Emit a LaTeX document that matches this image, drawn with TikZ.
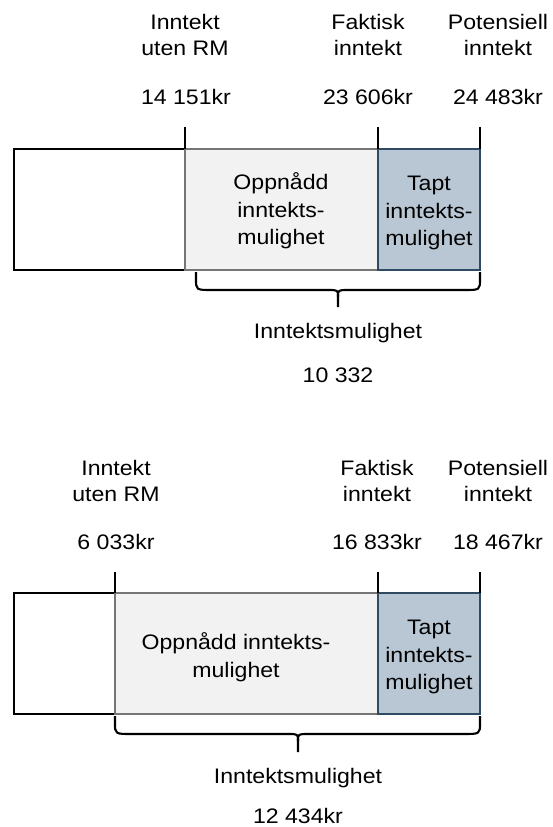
\documentclass[tikz,border=0pt]{standalone}
\usepackage{fontspec}
\setmainfont{Liberation Sans}[FakeStretch=1.1]
\definecolor{gfill}{HTML}{F2F2F2}
\definecolor{gline}{HTML}{767676}
\definecolor{bfill}{HTML}{B9C7D4}
\definecolor{bline}{HTML}{2F4A63}
\tikzset{
  boxbase/.style={rectangle, inner sep=0pt, outer sep=0pt, anchor=north west, line width=2.8pt},
  whitebox/.style={boxbase, draw=black, fill=white},
  greybox/.style={boxbase, draw=gline, fill=gfill, align=center, font=\fontsize{21}{27.5}\selectfont},
  bluebox/.style={boxbase, draw=bline, fill=bfill, align=center, font=\fontsize{21}{27.5}\selectfont},
  tickline/.style={line width=2.8pt, black},
  braceline/.style={line width=2.1pt, black, line join=round},
  lbl/.style={align=center, inner sep=0pt, font=\fontsize{21}{26}\selectfont},
  num/.style={anchor=base, inner sep=0pt, font=\fontsize{21}{25}\selectfont},
}
\begin{document}
\begin{tikzpicture}[x=1pt, y=-1pt]
\useasboundingbox (0,0) rectangle (553,827);

% ---------------- top diagram ----------------
\node[whitebox, minimum width=171pt, minimum height=121pt] (L1) at (14,149) {};
\node[greybox, minimum width=193pt, minimum height=121pt] (G1) at (185,149) {};
\node[bluebox, minimum width=102pt, minimum height=121pt] (B1) at (378,149) {};
\node[greybox, draw=none, fill=none, anchor=center] (G1t) at (281,211) {Oppnådd\\inntekts-\\mulighet};
\node[bluebox, draw=none, fill=none, anchor=center] (B1t) at (429,213) {Tapt\\inntekts-\\mulighet};

\coordinate (t1a) at (185,127);
\coordinate (t1b) at (378,127);
\coordinate (t1c) at (480,127);
\draw[tickline] (t1a) -- (G1.north west);
\draw[tickline] (t1b) -- (B1.north west);
\draw[tickline] (t1c) -- (B1.north east);

\node[lbl] (l1a) at (185,35) {Inntekt\\uten RM};
\node[lbl] (l1b) at (368,35) {Faktisk\\inntekt};
\node[lbl] (l1c) at (498,35) {Potensiell\\inntekt};
\node[num] (n1a) at (186,104) {14 151kr};
\node[num] (n1b) at (368,104) {23 606kr};
\node[num] (n1c) at (498,104) {24 483kr};

\coordinate (br1l) at (196,272);
\coordinate (br1r) at (480,272);
\coordinate (br1m) at (338,307);
\draw[braceline] (br1l) -- (196,279) .. controls (196,290) .. (212,290) -- (328,290)
   .. controls (338,290) .. (338,297) -- (br1m);
\draw[braceline] (br1r) -- (480,279) .. controls (480,290) .. (464,290) -- (348,290)
   .. controls (338,290) .. (338,297);
\node[num] (m1) at (338,338) {Inntektsmulighet};
\node[num] (v1) at (338,382) {10 332};

% ---------------- bottom diagram ----------------
\node[whitebox, minimum width=101pt, minimum height=121pt] (L2) at (14,593) {};
\node[greybox, minimum width=263pt, minimum height=121pt] (G2) at (115,593) {};
\node[bluebox, minimum width=102pt, minimum height=121pt] (B2) at (378,593) {};
\node[greybox, draw=none, fill=none, anchor=center] (G2t) at (236,657) {Oppnådd inntekts-\\mulighet};
\node[bluebox, draw=none, fill=none, anchor=center] (B2t) at (429,657) {Tapt\\inntekts-\\mulighet};

\coordinate (t2a) at (115,572);
\coordinate (t2b) at (378,572);
\coordinate (t2c) at (480,572);
\draw[tickline] (t2a) -- (G2.north west);
\draw[tickline] (t2b) -- (B2.north west);
\draw[tickline] (t2c) -- (B2.north east);

\node[lbl] (l2a) at (116,481) {Inntekt\\uten RM};
\node[lbl] (l2b) at (377,481) {Faktisk\\inntekt};
\node[lbl] (l2c) at (498,481) {Potensiell\\inntekt};
\node[num] (n2a) at (116,549) {6 033kr};
\node[num] (n2b) at (377,549) {16 833kr};
\node[num] (n2c) at (498,549) {18 467kr};

\coordinate (br2l) at (115,716);
\coordinate (br2r) at (480,716);
\coordinate (br2m) at (298,752);
\draw[braceline] (br2l) -- (115,723) .. controls (115,734) .. (132,734) -- (288,734)
   .. controls (298,734) .. (298,741) -- (br2m);
\draw[braceline] (br2r) -- (480,723) .. controls (480,734) .. (463,734) -- (308,734)
   .. controls (298,734) .. (298,741);
\node[num] (m2) at (298,783) {Inntektsmulighet};
\node[num] (v2) at (298,823) {12 434kr};
\end{tikzpicture}
\end{document}
